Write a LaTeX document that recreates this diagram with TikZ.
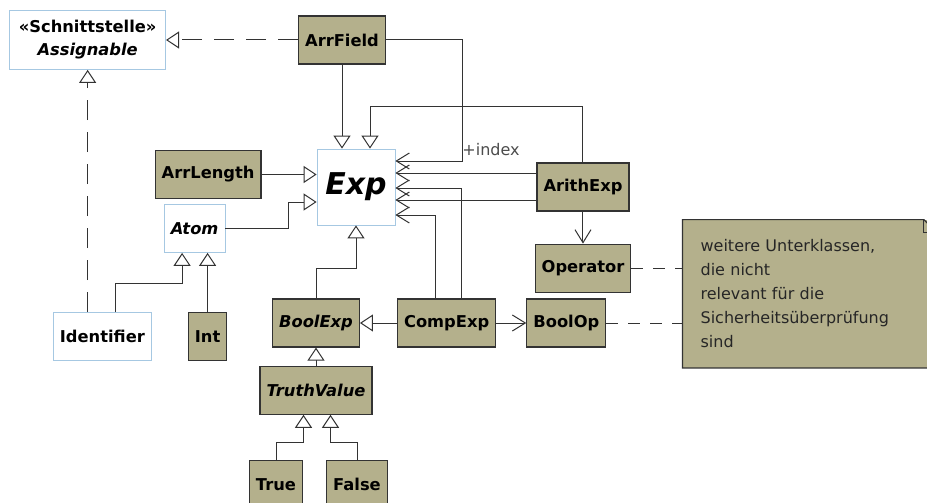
\documentclass[tikz,border=0pt]{standalone}
\usepackage{fontspec}
\setmainfont{DejaVu Sans}
\usetikzlibrary{arrows.meta, positioning, calc}
\definecolor{umlolive}{HTML}{B4B08C}
\definecolor{umlline}{HTML}{333333}
\definecolor{umlblue}{HTML}{A6C8E2}

\begin{document}
\begin{tikzpicture}[
    x=1pt, y=1pt,
    cls/.style={rectangle, draw=umlline, fill=umlolive, line width=1.2pt, minimum height=48pt, inner xsep=6.5pt, font=\fontsize{16.3}{23}\selectfont\bfseries},
    abscls/.style={cls, font=\fontsize{16.3}{23}\selectfont\bfseries\itshape},
    iface/.style={cls, draw=umlblue, fill=white, line width=0.8pt},
    note/.style={fill=umlolive, text width=218pt, inner xsep=18pt, minimum height=148pt, align=left, font=\fontsize{16}{24}\selectfont, text=black!85},
    gen/.style={-{Triangle[open, length=13pt, width=17pt, fill=white]}, line width=1pt, draw=umlline},
    real/.style={gen, dash pattern=on 20pt off 12pt},
    assoc/.style={-{Straight Barb[length=13pt, width=16pt]}, line width=1pt, draw=umlline},
    notelink/.style={line width=1pt, draw=umlline, dash pattern=on 12pt off 10pt}
]
\useasboundingbox (0,0) rectangle (927,-503);
\node[iface, font=\fontsize{30}{36}\selectfont\bfseries\itshape, minimum width=78pt, minimum height=76pt] (exp) at (356,-187) {Exp};
\node[cls, above=84pt of exp, xshift=-14pt] (arrfield) {ArrField};
\node[iface, align=center, minimum width=156pt, minimum height=59pt, left=132pt of arrfield] (assign) {«Schnittstelle»\\\textit{Assignable}};
\node[cls, left=55pt of exp, yshift=12.5pt] (arrlength) {ArrLength};
\node[iface, font=\fontsize{16.3}{23}\selectfont\bfseries\itshape, below=5pt of arrlength, xshift=-13.5pt] (atom) {Atom};
\node[cls, below=59pt of atom, xshift=13pt] (int) {Int};
\node[iface, left=36pt of int] (identifier) {Identifier};
\node[abscls, below=73pt of exp, xshift=-40pt] (boolexp) {BoolExp};
\node[cls, right=37pt of boolexp] (compexp) {CompExp};
\node[cls, right=30pt of compexp] (boolop) {BoolOp};
\node[cls, right=141pt of exp] (arithexp) {ArithExp};
\node[cls, below=32pt of arithexp] (operator) {Operator};
\node[abscls, below=18pt of boolexp] (truth) {TruthValue};
\node[cls, below=45pt of truth, xshift=-40pt] (truev) {True};
\node[cls, below=45pt of truth, xshift=41pt] (falsev) {False};
\node[note, right=51pt of operator.north east, anchor=north west, yshift=24pt] (note) {weitere Unterklassen,\\die nicht\\relevant für die\\Sicherheitsüberprüfung\\sind};
\draw[line width=1.2pt, umlline] (note.north west) -- ([xshift=-13pt]note.north east) -- ([yshift=-13pt]note.north east) -- (note.south east) -- (note.south west) -- cycle;
\draw[line width=1.2pt, umlline] ([xshift=-13pt]note.north east) |- ([yshift=-13pt]note.north east);

% realizations
\draw[real] (arrfield.west) -- (arrfield.west -| assign.east);
\draw[real] (identifier.north -| assign.south) -- (assign.south);

% generalizations
\draw[gen] (arrfield.south) -- (arrfield.south |- exp.north);
\draw[gen] (arithexp.north) -- ++(0,56pt) -| ([xshift=14pt]exp.north);
\draw[gen] (arrlength.east) -- (arrlength.east -| exp.west);
\draw[gen] (atom.east) -- ++(63pt,0) |- ([yshift=-15pt]exp.west);
\draw[gen] (boolexp.north) -- ++(0,30pt) -| (exp.south);
\draw[gen] ([xshift=13.5pt]identifier.north) -- ++(0,29pt) -| ([xshift=-12.5pt]atom.south);
\draw[gen] (int.north) -- (int.north |- atom.south);
\draw[gen] (compexp.west) -- (boolexp.east);
\draw[gen] (truth.north) -- (truth.north |- boolexp.south);
\draw[gen] (truev.north) -- ++(0,17pt) -| ([xshift=-12.5pt]truth.south);
\draw[gen] (falsev.north) -- ++(0,17pt) -| ([xshift=14.5pt]truth.south);

% associations
\draw[assoc] (arrfield.east) -- ++(77pt,0) |- ([yshift=26pt]exp.east)
    node[pos=0.5, anchor=south west, inner sep=0pt, xshift=-1pt, yshift=5pt, font=\fontsize{16}{19}\selectfont, text=black!70] {+index};
\draw[assoc] ([yshift=14pt]arithexp.west) -- ([yshift=14pt]arithexp.west -| exp.east);
\draw[assoc] ([yshift=-13pt]arithexp.west) -- ([yshift=-13pt]arithexp.west -| exp.east);
\draw[assoc] ([xshift=14.5pt]compexp.north) |- ([yshift=-1pt]exp.east);
\draw[assoc] ([xshift=-11.5pt]compexp.north) |- ([yshift=-28pt]exp.east);
\draw[assoc] (compexp.east) -- (boolop.west);
\draw[assoc] (arithexp.south) -- (arithexp.south |- operator.north);

% note links
\draw[notelink] (operator.east) -- (operator.east -| note.west);
\draw[notelink] (boolop.east) -- (boolop.east -| note.west);
\end{tikzpicture}
\end{document}
